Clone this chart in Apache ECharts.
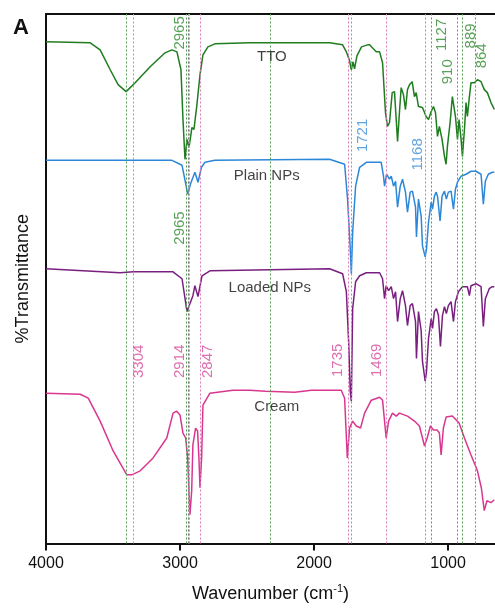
<!DOCTYPE html>
<html>
<head>
<meta charset="utf-8">
<script src="https://cdn.jsdelivr.net/npm/echarts@6/dist/echarts.min.js"></script>
<style>
  html, body { margin: 0; padding: 0; background: #fff; }
  #chart { width: 495px; height: 608px; }
</style>
</head>
<body>
<div id="chart"></div>
<script>
// spectra: [wavenumber (cm-1), offset transmittance]
const tto = [
  [4000, 504], [3670, 503], [3596, 496], [3521, 476], [3462, 461], [3402, 454], [3335, 463],
  [3223, 479], [3112, 493], [3060, 496], [3023, 494], [2993, 476], [2978, 426], [2963, 386],
  [2948, 406], [2933, 398], [2911, 418], [2896, 416], [2874, 441], [2851, 471], [2829, 491],
  [2792, 499], [2740, 502], [2480, 503], [1884, 503], [1787, 501], [1759, 494], [1735, 485],
  [1722, 476], [1710, 484], [1698, 477], [1680, 490], [1646, 499], [1601, 501], [1586, 501],
  [1536, 494], [1511, 494], [1489, 483], [1467, 433], [1452, 419], [1437, 423], [1417, 453],
  [1400, 454], [1387, 426], [1377, 404], [1363, 433], [1350, 458], [1333, 451], [1318, 436],
  [1303, 456], [1288, 461], [1268, 464], [1251, 449], [1238, 453], [1221, 439], [1191, 438],
  [1164, 429], [1146, 426], [1126, 434], [1109, 439], [1094, 433], [1079, 409], [1065, 419],
  [1045, 406], [1027, 389], [1015, 381], [1005, 399], [985, 423], [968, 449], [945, 429],
  [930, 406], [918, 426], [903, 406], [893, 389], [878, 416], [866, 443], [856, 429],
  [841, 449], [829, 463], [804, 463], [781, 466], [754, 464], [730, 456], [707, 453],
  [680, 443], [655, 436]
];
const plainNPs = [
  [4000, 385], [3060, 385], [2985, 380], [2963, 365], [2943, 351], [2920, 362], [2889, 373],
  [2866, 363], [2840, 378], [2814, 383], [2740, 385], [1884, 386], [1772, 381], [1750, 346],
  [1730, 296], [1722, 271], [1712, 313], [1690, 359], [1660, 378], [1610, 383], [1499, 383],
  [1482, 369], [1474, 359], [1459, 371], [1437, 366], [1424, 369], [1407, 359], [1392, 364],
  [1377, 338], [1357, 359], [1340, 366], [1318, 353], [1303, 333], [1283, 353], [1266, 354],
  [1243, 338], [1236, 308], [1221, 346], [1201, 329], [1191, 299], [1171, 288], [1161, 296],
  [1146, 323], [1126, 343], [1116, 336], [1102, 349], [1089, 353], [1079, 349], [1060, 324],
  [1045, 349], [1027, 354], [1013, 346], [998, 353], [978, 354], [960, 336], [945, 356],
  [930, 363], [903, 369], [866, 371], [829, 374], [792, 374], [754, 371], [737, 341],
  [722, 364], [700, 371], [670, 373], [655, 373]
];
const loadedNPs = [
  [4000, 276], [3447, 272], [3350, 273], [3052, 273], [2985, 266], [2948, 233], [2904, 249],
  [2889, 259], [2866, 248], [2836, 269], [2777, 274], [1884, 276], [1787, 271], [1759, 253],
  [1742, 203], [1730, 153], [1722, 143], [1712, 236], [1690, 263], [1660, 269], [1610, 272],
  [1511, 272], [1489, 266], [1474, 246], [1462, 259], [1444, 254], [1424, 258], [1407, 246],
  [1392, 253], [1377, 223], [1357, 246], [1340, 254], [1318, 239], [1303, 219], [1283, 239],
  [1266, 241], [1243, 223], [1236, 186], [1221, 233], [1201, 214], [1191, 183], [1171, 163],
  [1161, 173], [1146, 206], [1126, 226], [1116, 216], [1102, 233], [1087, 236], [1072, 229],
  [1057, 198], [1042, 229], [1027, 238], [1013, 231], [998, 239], [978, 243], [960, 223],
  [945, 243], [923, 253], [893, 258], [856, 258], [841, 249], [829, 259], [792, 261],
  [754, 258], [737, 218], [722, 246], [693, 256], [670, 258], [655, 258]
];
const cream = [
  [4000, 151], [3745, 150], [3685, 146], [3596, 123], [3499, 93], [3397, 69], [3360, 69],
  [3297, 73], [3201, 86], [3099, 106], [3052, 131], [3025, 133], [3000, 129], [2978, 111],
  [2958, 106], [2943, 86], [2926, 29], [2913, 53], [2904, 99], [2884, 116], [2869, 113],
  [2859, 86], [2851, 56], [2839, 86], [2829, 139], [2777, 151], [2606, 154], [2480, 154],
  [2361, 153], [2144, 152], [2020, 154], [1797, 154], [1772, 146], [1752, 86], [1735, 116],
  [1712, 123], [1685, 118], [1653, 116], [1623, 131], [1573, 144], [1511, 147], [1489, 144],
  [1462, 106], [1444, 123], [1415, 131], [1387, 128], [1363, 131], [1303, 128], [1251, 123],
  [1214, 118], [1176, 98], [1156, 106], [1132, 118], [1109, 114], [1082, 114], [1065, 111],
  [1052, 89], [1035, 116], [1015, 127], [968, 128], [918, 121], [878, 106], [829, 89],
  [781, 73], [752, 56], [730, 33], [710, 43], [680, 41], [655, 44]
];

// dotted guide lines (cm-1)
const greenGuides = [3400, 2950, 2325, 1127, 929, 892, 800];
const pinkGuides = [3350, 2932, 2850, 1748, 1462];
const blueGuides = [1722, 1168];
const grayGuides = [2942, 2938];

// rotated peak labels: [x, y, text]
const greenPeakLabels = [[3000, 513, '2965'], [3000, 317, '2965'], [1050, 511, '1127'],
  [998, 474, '910'], [827, 510, '889'], [745, 490, '864']];
const bluePeakLabels = [[1638, 410, '1721'], [1229, 391, '1168']];
const pinkPeakLabels = [[3305, 183, '3304'], [3000, 183, '2914'], [2792, 183, '2847'],
  [1824, 184, '1735'], [1534, 184, '1469']];

// trace names: [x, y, text]
const traceNames = [[2315, 489, 'TTO'], [2353, 369, 'Plain NPs'], [2330, 257, 'Loaded NPs'],
  [2278, 137, 'Cream']];

const xTicks = [1000, 2000, 3000, 4000];

const FONT = 'Liberation Sans, Arial, sans-serif';
const chart = echarts.init(document.getElementById('chart'));

function spectrum(name, data, color) {
  return {
    name, type: 'line', data, showSymbol: false, animation: false, silent: true,
    lineStyle: { color, width: 1.5 }, z: 3,
  };
}

function guides(values, color) {
  return {
    type: 'line', data: [], silent: true, animation: false,
    markLine: {
      symbol: 'none', silent: true, animation: false,
      label: { show: false },
      lineStyle: { color, type: [2, 2], width: 1 },
      data: values.map((v) => ({ xAxis: v })),
    },
  };
}

function textLabels(data, color, rotate, size) {
  return {
    type: 'scatter', data, symbolSize: 0, animation: false, silent: true, z: 5,
    label: {
      show: true, position: 'inside', rotate, color,
      fontFamily: FONT, fontSize: size, textBorderWidth: 0,
      formatter: (p) => p.value[2],
    },
  };
}

chart.setOption({
  backgroundColor: '#fff',
  title: {
    text: 'A', left: 8, top: 12,
    textStyle: { fontFamily: FONT, fontSize: 22, fontWeight: 'bold', color: '#111' },
  },
  grid: { left: 46, right: 0, top: 14, bottom: 62 },
  xAxis: [
    {
      type: 'value', inverse: true, min: 650, max: 4000,
      name: '{a|Wavenumber (cm}{s|-1}{a|)}',
      nameLocation: 'middle', nameGap: 40,
      nameTextStyle: {
        rich: {
          a: { fontFamily: FONT, fontSize: 18, color: '#111' },
          s: { fontFamily: FONT, fontSize: 11, color: '#111', verticalAlign: 'top', padding: [0, 0, 10, 0] },
        },
      },
      splitLine: { show: false },
      axisLine: { lineStyle: { color: '#111', width: 2 } },
      axisTick: { customValues: xTicks, length: 7, lineStyle: { color: '#111', width: 2 } },
      axisLabel: {
        customValues: xTicks, fontFamily: FONT, fontSize: 16, color: '#111', margin: 12,
        formatter: (v) => String(v),
      },
    },
    {
      type: 'value', inverse: true, min: 650, max: 4000, position: 'top',
      splitLine: { show: false }, axisTick: { show: false }, axisLabel: { show: false },
      axisLine: { lineStyle: { color: '#111', width: 2 } },
    },
  ],
  yAxis: {
    type: 'value', min: 0, max: 532,
    name: '%Transmittance', nameLocation: 'middle', nameGap: 14, nameRotate: 90,
    nameTextStyle: { fontFamily: FONT, fontSize: 18, color: '#111' },
    splitLine: { show: false }, axisTick: { show: false }, axisLabel: { show: false },
    axisLine: { show: true, lineStyle: { color: '#111', width: 2 } },
  },
  series: [
    guides(greenGuides, '#4f9f4f'),
    guides(pinkGuides, '#e07ab8'),
    guides(blueGuides, '#6aa2e0'),
    guides(grayGuides, '#8a8a8a'),
    spectrum('TTO', tto, '#1f7d1f'),
    spectrum('Plain NPs', plainNPs, '#2d87d8'),
    spectrum('Loaded NPs', loadedNPs, '#7a1f80'),
    spectrum('Cream', cream, '#d9378f'),
    textLabels(greenPeakLabels, '#2f8a2f', 90, 15),
    textLabels(bluePeakLabels, '#3a8fd8', 90, 15),
    textLabels(pinkPeakLabels, '#d64a98', 90, 15),
    textLabels(traceNames, '#111', 0, 15),
  ],
});
</script>
</body>
</html>
